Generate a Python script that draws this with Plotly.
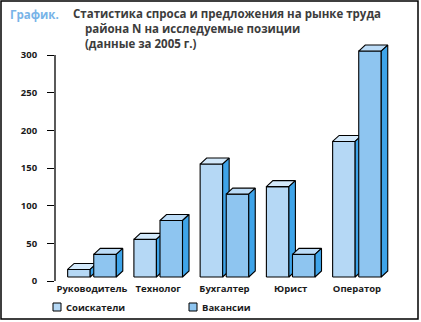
import plotly.graph_objects as go

# Labour market demand / supply by position, 2005
categories = ["Руководитель", "Технолог", "Бухгалтер", "Юрист", "Оператор"]
applicants = [10, 50, 150, 120, 180]   # Соискатели
vacancies = [30, 75, 110, 30, 300]     # Вакансии
y_ticks = [0, 50, 100, 150, 200, 250, 300]

W, H = 421, 322
L, R, T, B = 55, 21, 40, 41
X_RANGE = [-0.558, 4.65]
Y_RANGE = [0, 320]

px_x = (W - L - R) / (X_RANGE[1] - X_RANGE[0])
px_y = (H - T - B) / (Y_RANGE[1] - Y_RANGE[0])

# 3D extrusion, converted from pixels to data units
DX = 6.5 / px_x
DY = 6.0 / px_y
BASE = 4.0 / px_y
BAR_W = 0.34

series = [
    dict(name="Соискатели", values=applicants, offset=-0.367,
         front="#b5d8f5", top="#d3e9fb", side="#3ea4e9"),
    dict(name="Вакансии", values=vacancies, offset=0.027,
         front="#8ec5f0", top="#bcdcf7", side="#3ea4e9"),
]


def faces(values, offset):
    fx, fy, tx, ty, sx, sy = [], [], [], [], [], []
    for i, v in enumerate(values):
        x0 = i + offset
        x1 = x0 + BAR_W
        b = BASE
        t = BASE + v
        fx += [x0, x1, x1, x0, x0, None]
        fy += [b, b, t, t, b, None]
        tx += [x0, x1, x1 + DX, x0 + DX, x0, None]
        ty += [t, t, t + DY, t + DY, t, None]
        sx += [x1, x1 + DX, x1 + DX, x1, x1, None]
        sy += [b, b + DY, t + DY, t, b, None]
    return (fx, fy), (tx, ty), (sx, sy)


fig = go.Figure()
for s in series:
    front, top, side = faces(s["values"], s["offset"])
    for (xs, ys), col in ((front, s["front"]), (top, s["top"]), (side, s["side"])):
        fig.add_trace(go.Scatter(
            x=xs, y=ys, mode="lines", fill="toself", fillcolor=col,
            line=dict(color="#000000", width=1.1), hoverinfo="skip",
            showlegend=False, name=s["name"]))


def px2paper_x(p):
    return (p - L) / (W - L - R)


def px2paper_y(p):
    return (H - B - p) / (H - T - B)


shapes = [
    # value axis line
    dict(type="line", xref="paper", yref="y", x0=0, x1=0, y0=0, y1=300,
         line=dict(color="#000000", width=1.3)),
    # outer frame
    dict(type="rect", xref="paper", yref="paper",
         x0=px2paper_x(1), x1=px2paper_x(418), y0=px2paper_y(319), y1=px2paper_y(1),
         line=dict(color="#000000", width=1.5)),
]

TITLE_FONT = dict(family="Open Sans", size=11.5, color="#3c3c3c", weight="bold")
INDENT = "\u00a0" * 4
title_text = "<br>".join([
    "Статистика спроса и предложения на рынке труда",
    INDENT + "района N на исследуемые позиции",
    INDENT + "(данные за 2005 г.)",
])

annotations = [
    dict(text="График.", xref="paper", yref="paper", x=px2paper_x(9), y=px2paper_y(15),
         xanchor="left", yanchor="middle", showarrow=False, borderpad=0,
         font=dict(family="Open Sans", size=11.5, color="#78b4e8", weight="bold")),
    dict(text=title_text, xref="paper", yref="paper", x=px2paper_x(72), y=px2paper_y(29),
         xanchor="left", yanchor="middle", align="left", showarrow=False, borderpad=0,
         font=TITLE_FONT),
]

# legend built from swatches and labels
legend_pos = [(53, 64), (189, 200)]
for s, (sq, tx) in zip(series, legend_pos):
    shapes.append(dict(type="rect", xref="paper", yref="paper",
                       x0=px2paper_x(sq), x1=px2paper_x(sq + 8),
                       y0=px2paper_y(311), y1=px2paper_y(303),
                       fillcolor=s["front"], line=dict(color="#000000", width=1)))
    annotations.append(dict(text=s["name"], xref="paper", yref="paper",
                            x=px2paper_x(tx), y=px2paper_y(307), xanchor="left",
                            yanchor="middle", showarrow=False,
                            font=dict(family="Open Sans", size=9.5, color="#1a1a1a",
                                      weight="bold")))

fig.update_layout(
    width=W, height=H,
    margin=dict(l=L, r=R, t=T, b=B, pad=0),
    paper_bgcolor="#ffffff", plot_bgcolor="#ffffff",
    showlegend=False,
    shapes=shapes,
    annotations=annotations,
    xaxis=dict(range=X_RANGE, tickvals=list(range(len(categories))), ticktext=categories,
               showgrid=False, zeroline=False, showline=False, ticks="",
               tickfont=dict(family="Open Sans", size=9.5, color="#1a1a1a", weight="bold"),
               ticklabelstandoff=0, fixedrange=True),
    yaxis=dict(range=Y_RANGE, tickvals=y_ticks, showgrid=False, zeroline=False,
               showline=False, ticks="outside", ticklen=7, tickwidth=1.3, tickcolor="#000000",
               tickfont=dict(family="Open Sans", size=9.5, color="#1a1a1a", weight="bold"),
               ticklabelstandoff=8, fixedrange=True),
)

fig.write_html("out.html")
